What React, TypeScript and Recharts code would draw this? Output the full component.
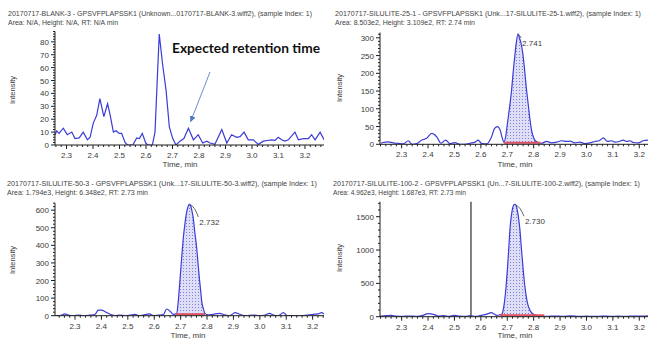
import React from "react";
import {
  Area,
  ComposedChart,
  Line,
  ReferenceDot,
  ReferenceLine,
  XAxis,
  YAxis,
} from "recharts";

// 20170717-BLANK-3
const blankTime = [
  2.257, 2.263, 2.272, 2.288, 2.303, 2.32, 2.332, 2.348, 2.363, 2.379,
  2.389, 2.401, 2.414, 2.426, 2.441, 2.455, 2.464, 2.477, 2.487, 2.499,
  2.508, 2.521, 2.53, 2.55, 2.565, 2.575, 2.586, 2.599, 2.607, 2.624,
  2.634, 2.643, 2.65, 2.663, 2.676, 2.688, 2.701, 2.713, 2.728, 2.743,
  2.76, 2.779, 2.797, 2.814, 2.829, 2.842, 2.86, 2.886, 2.905, 2.923,
  2.942, 2.955, 2.97, 2.986, 3.005, 3.024, 3.043, 3.058, 3.074, 3.087,
  3.099, 3.112, 3.124, 3.137, 3.162, 3.175, 3.194, 3.213, 3.225, 3.238,
  3.257, 3.272,
];
const blankIntensity = [
  8, 11, 9, 13, 8, 10, 5, 5.5, 10, 4,
  6, 17, 23, 36, 22, 32, 24, 10, 11, 9,
  9, 2, 0, 0, 5.5, 5, 9, 1.5, 0, 0,
  10, 53, 86, 62, 42, 14, 5, 0, 3, 5,
  13, 4, 8, 1.5, 3, 1.5, 0.5, 12, 1.5, 8,
  6, 6.5, 10, 4, 4, 0.5, 3, 3.5, 4, 3.6,
  6, 4, 3, 4, 10, 4, 5, 5, 8, 4,
  10, 4,
];

// 20170717-SILULITE-25-1
const s25Time = [
  2.222, 2.23, 2.249, 2.268, 2.287, 2.306, 2.325, 2.34, 2.357, 2.376,
  2.395, 2.414, 2.433, 2.449, 2.467, 2.483, 2.502, 2.521, 2.54, 2.559,
  2.578, 2.59, 2.603, 2.622, 2.641, 2.652, 2.663, 2.673, 2.681, 2.687,
  2.694, 2.7, 2.709, 2.716, 2.722, 2.728, 2.734, 2.741, 2.746, 2.752,
  2.759, 2.765, 2.772, 2.779, 2.786, 2.792, 2.799, 2.806, 2.815, 2.83,
  2.849, 2.868, 2.887, 2.906, 2.925, 2.938, 2.956, 2.975, 2.994, 3.013,
  3.032, 3.048, 3.064, 3.079, 3.095, 3.108, 3.124, 3.139, 3.152, 3.165,
  3.178, 3.196, 3.215, 3.233,
];
const s25Intensity = [
  3, 5, 7, 4, 2.5, 1, 10, 0, 2, 12,
  17, 31, 21, 3, 12, 2, 5, 0, 0, 3,
  6, 12, 2, 1, 22, 45, 50, 40, 18, 6,
  22, 55, 106, 150, 200, 245, 285, 311, 300, 285,
  255, 215, 160, 115, 70, 40, 20, 10, 6, 3,
  8, 4, 6, 10, 8, 9, 4, 6, 2, 4,
  8, 10, 18, 8, 10, 6, 8, 12, 8, 10,
  5, 4, 10, 12,
];

// 20170717-SILULITE-50-3
const s50Time = [
  2.224, 2.243, 2.262, 2.275, 2.294, 2.313, 2.332, 2.357, 2.376, 2.388,
  2.401, 2.414, 2.433, 2.452, 2.47, 2.49, 2.508, 2.527, 2.544, 2.565,
  2.582, 2.597, 2.616, 2.635, 2.647, 2.662, 2.672, 2.685, 2.691, 2.698,
  2.704, 2.71, 2.716, 2.723, 2.728, 2.733, 2.738, 2.743, 2.748, 2.754,
  2.761, 2.766, 2.771, 2.776, 2.78, 2.786, 2.792, 2.804, 2.823, 2.848,
  2.867, 2.886, 2.906, 2.924, 2.949, 2.974, 3.0, 3.02, 3.036, 3.052,
  3.07, 3.089, 3.104, 3.127, 3.152, 3.177, 3.202, 3.221, 3.234, 3.243,
];
const s50Intensity = [
  0, 1, 10, 3, 0, 3, 0, 3, 8, 32,
  32, 22, 8, 0, 3, 0, 3, 8, 0, 6,
  10, 0, 3, 6, 38, 22, 8, 13, 80, 212,
  330, 440, 520, 590, 620, 635, 625, 595, 553, 470,
  383, 295, 212, 140, 80, 40, 13, 5, 8, 13,
  5, 0, 18, 8, 0, 4, 0, 4, 13, 4,
  0, 18, 0, 0, 0, 3, 8, 10, 18, 10,
];

// 20170717-SILULITE-100-2
const s100Time = [
  2.218, 2.24, 2.26, 2.28, 2.3, 2.33, 2.36, 2.38, 2.4, 2.42,
  2.44, 2.46, 2.48, 2.5, 2.52, 2.54, 2.56, 2.58, 2.6, 2.62,
  2.64, 2.65, 2.66, 2.67, 2.68, 2.685, 2.69, 2.695, 2.7, 2.705,
  2.71, 2.715, 2.72, 2.725, 2.729, 2.733, 2.738, 2.743, 2.748, 2.754,
  2.76, 2.766, 2.772, 2.778, 2.785, 2.792, 2.8, 2.81, 2.82, 2.835,
  2.85, 2.88, 2.91, 2.94, 2.97, 3.0, 3.03, 3.06, 3.09, 3.12,
  3.15, 3.18, 3.21, 3.233,
];
const s100Intensity = [
  10, 15, 20, 8, 5, 10, 5, 20, 45, 35,
  10, 15, 5, 20, 10, 5, 15, 5, 20, 35,
  60, 40, 20, 25, 40, 110, 240, 430, 680, 980,
  1300, 1500, 1620, 1680, 1687, 1670, 1600, 1470, 1300, 1000,
  720, 480, 300, 180, 105, 60, 35, 20, 12, 8,
  5, 10, 5, 12, 6, 8, 4, 10, 6, 8,
  5, 10, 8, 12,
];

const timeTicks = [2.3, 2.4, 2.5, 2.6, 2.7, 2.8, 2.9, 3.0, 3.1, 3.2];
const blankYTicks = [0, 10, 20, 30, 40, 50, 60, 70, 80];
const s25YTicks = [0, 50, 100, 150, 200, 250, 300];
const s50YTicks = [0, 100, 200, 300, 400, 500, 600];
const s100YTicks = [0, 500, 1000, 1500];

const FONT = "'Liberation Sans', Arial, sans-serif";
const BLUE = "#3b3bd6";
const AXIS = "#1e1e1e";
const TXT = "#3a3a3a";

// evenly spaced minor tick positions inside [lo, hi]
const stepTicks = (lo: number, hi: number, step: number) => {
  const out: number[] = [];
  for (let i = Math.ceil(lo / step - 1e-9); i <= Math.floor(hi / step + 1e-9); i++) {
    out.push(Math.round(i * step * 1000) / 1000);
  }
  return out;
};

const isMajor = (v: number, majors: number[]) =>
  majors.some((m) => Math.abs(m - v) < 1e-6);

const TimeTick = ({ x, y, payload }: any) => {
  const major = isMajor(payload.value, timeTicks);
  return (
    <g>
      <line x1={x} x2={x} y1={y} y2={y + (major ? 4 : 2)} stroke={AXIS} />
      {major && (
        <text x={x} y={y + 13} textAnchor="middle" fontSize={8} fontFamily={FONT} fill={TXT}>
          {payload.value.toFixed(1)}
        </text>
      )}
    </g>
  );
};

const makeYTick = (majors: number[]) => ({ x, y, payload }: any) => {
  const major = isMajor(payload.value, majors);
  return (
    <g>
      <line x1={x - (major ? 4 : 2)} x2={x} y1={y} y2={y} stroke={AXIS} />
      {major && (
        <text x={x - 6} y={y + 3} textAnchor="end" fontSize={8} fontFamily={FONT} fill={TXT}>
          {payload.value}
        </text>
      )}
    </g>
  );
};

const PeakTag = ({ cx, cy, label, dx, dy }: any) => (
  <g>
    <path
      d={`M${cx + 1},${cy + 1} Q${cx + dx * 0.5},${cy + 2} ${cx + dx - 1},${cy + dy - 8}`}
      fill="none"
      stroke="#555"
      strokeWidth={0.9}
    />
    <text x={cx + dx} y={cy + dy} fontSize={8} fontFamily={FONT} fill={TXT}>
      {label}
    </text>
  </g>
);

// red integration baseline, drawn just above the time axis
const Baseline = ({ x1, x2, y }: any) => (
  <line x1={x1} x2={x2} y1={y - 1.5} y2={y - 1.5} stroke="#e2525e" strokeWidth={2} />
);

const Panel = ({ id, time, intensity, xDomain, yMax, yMajor, yStep, curve, box, margin, integ, peak, marker }: any) => {
  const data = time.map((t: number, i: number) => ({
    t,
    v: intensity[i],
    fill: integ && t >= integ[0] && t <= integ[1] ? intensity[i] : null,
  }));
  const YTick = makeYTick(yMajor);
  return (
    <div style={{ position: "absolute", left: box.left, top: box.top }}>
      <ComposedChart width={box.width} height={box.height} data={data} margin={margin}>
        <defs>
          <pattern id={`dots-${id}`} width={3} height={3} patternUnits="userSpaceOnUse">
            <rect width={3} height={3} fill="#dedef7" />
            <rect width={1} height={1} fill="#8080dd" />
          </pattern>
        </defs>
        <XAxis
          type="number"
          dataKey="t"
          domain={xDomain}
          allowDataOverflow
          ticks={stepTicks(xDomain[0], xDomain[1], 0.02)}
          interval={0}
          height={20}
          tickSize={0}
          tickMargin={0}
          tickLine={false}
          axisLine={{ stroke: AXIS }}
          tick={(p: any) => <TimeTick {...p} />}
        />
        <YAxis
          type="number"
          domain={[0, yMax]}
          allowDataOverflow
          ticks={stepTicks(0, yMax, yStep)}
          interval={0}
          width={40}
          tickSize={0}
          tickMargin={0}
          tickLine={false}
          axisLine={{ stroke: AXIS }}
          tick={(p: any) => <YTick {...p} />}
        />
        {integ && (
          <Area
            type={curve}
            dataKey="fill"
            stroke="none"
            fill={`url(#dots-${id})`}
            fillOpacity={1}
            baseValue={0}
            dot={false}
            activeDot={false}
            isAnimationActive={false}
          />
        )}
        <Line
          type={curve}
          dataKey="v"
          stroke={BLUE}
          strokeWidth={1.2}
          dot={false}
          activeDot={false}
          isAnimationActive={false}
        />
        {integ && (
          <ReferenceLine
            segment={[
              { x: integ[0], y: 0 },
              { x: integ[1], y: 0 },
            ]}
            ifOverflow="visible"
            shape={(p: any) => <Baseline x1={p.x1} x2={p.x2} y={p.y1} />}
          />
        )}
        {marker != null && <ReferenceLine x={marker} stroke="#555" strokeWidth={1.5} />}
        {peak && (
          <ReferenceDot
            x={peak.t}
            y={peak.v}
            r={0}
            ifOverflow="visible"
            shape={(p: any) => <PeakTag cx={p.cx} cy={p.cy} label={peak.label} dx={peak.dx} dy={peak.dy} />}
          />
        )}
      </ComposedChart>
    </div>
  );
};

const titles = [
  {
    x: 8, y: 16, w1: 304, w2: 110,
    l1: "20170717-BLANK-3 - GPSVFPLAPSSK1 (Unknown...0170717-BLANK-3.wiff2), (sample Index: 1)",
    l2: "Area: N/A, Height: N/A, RT: N/A min",
  },
  {
    x: 335, y: 16, w1: 306, w2: 140,
    l1: "20170717-SILULITE-25-1 - GPSVFPLAPSSK1 (Unk...17-SILULITE-25-1.wiff2), (sample Index: 1)",
    l2: "Area: 8.503e2, Height: 3.109e2, RT: 2.74 min",
  },
  {
    x: 7, y: 186, w1: 310, w2: 141,
    l1: "20170717-SILULITE-50-3 - GPSVFPLAPSSK1 (Unk...17-SILULITE-50-3.wiff2), (sample Index: 1)",
    l2: "Area: 1.794e3, Height: 6.348e2, RT: 2.73 min",
  },
  {
    x: 333, y: 186, w1: 307, w2: 133,
    l1: "20170717-SILULITE-100-2 - GPSVFPLAPSSK1 (Un...7-SILULITE-100-2.wiff2), (sample Index: 1)",
    l2: "Area: 4.962e3, Height: 1.687e3, RT: 2.73 min",
  },
];

const yLabels = [
  { x: 12, y: 90 },
  { x: 339, y: 88 },
  { x: 12, y: 260 },
  { x: 339, y: 258 },
];
const xLabels = [
  { x: 180, y: 167 },
  { x: 515, y: 167 },
  { x: 188, y: 338 },
  { x: 515, y: 338 },
];

export default function App() {
  return (
    <div style={{ position: "absolute", left: 0, top: 0, width: 648, height: 343, background: "#fff", overflow: "hidden" }}>
      <Panel
        id="blank"
        time={blankTime}
        intensity={blankIntensity}
        xDomain={[2.2566, 3.2717]}
        yMax={88}
        yMajor={blankYTicks}
        yStep={2}
        curve="linear"
        box={{ left: 0, top: 0, width: 330, height: 170 }}
        margin={{ top: 31.5, right: 6, bottom: 5, left: 15 }}
      />
      <Panel
        id="s25"
        time={s25Time}
        intensity={s25Intensity}
        xDomain={[2.218, 3.233]}
        yMax={315}
        yMajor={s25YTicks}
        yStep={10}
        curve="monotone"
        box={{ left: 318, top: 0, width: 330, height: 170 }}
        margin={{ top: 32.5, right: 0, bottom: 5.7, left: 22 }}
        integ={[2.687, 2.826]}
        peak={{ t: 2.741, v: 311, label: "2.741", dx: 4, dy: 12 }}
      />
      <Panel
        id="s50"
        time={s50Time}
        intensity={s50Intensity}
        xDomain={[2.2242, 3.243]}
        yMax={640}
        yMajor={s50YTicks}
        yStep={20}
        curve="monotone"
        box={{ left: 0, top: 172, width: 330, height: 171 }}
        margin={{ top: 31.1, right: 6, bottom: 7.3, left: 15 }}
        integ={[2.682, 2.792]}
        peak={{ t: 2.733, v: 635, label: "2.732", dx: 10, dy: 21 }}
      />
      <Panel
        id="s100"
        time={s100Time}
        intensity={s100Intensity}
        xDomain={[2.218, 3.233]}
        yMax={1725}
        yMajor={s100YTicks}
        yStep={100}
        curve="monotone"
        box={{ left: 318, top: 172, width: 330, height: 171 }}
        margin={{ top: 29.7, right: 0, bottom: 6.3, left: 22 }}
        integ={[2.672, 2.84]}
        peak={{ t: 2.729, v: 1687, label: "2.730", dx: 10, dy: 20 }}
        marker={2.5625}
      />
      <svg width={648} height={343} style={{ position: "absolute", left: 0, top: 0, pointerEvents: "none" }}>
        <defs>
          <marker id="arrowHead" markerWidth={8} markerHeight={8} refX={6} refY={3} orient="auto" markerUnits="userSpaceOnUse">
            <path d="M0,0 L6,3 L0,6 Z" fill="#4f78c0" />
          </marker>
        </defs>
        {titles.map((t) => (
          <g key={t.l1} fontFamily={FONT} fontSize={7} fill="#444">
            <text x={t.x} y={t.y} textLength={t.w1} lengthAdjust="spacingAndGlyphs">{t.l1}</text>
            <text x={t.x} y={t.y + 9} textLength={t.w2} lengthAdjust="spacingAndGlyphs">{t.l2}</text>
          </g>
        ))}
        {yLabels.map((p, i) => (
          <text
            key={`y${i}`}
            x={p.x}
            y={p.y}
            transform={`rotate(-90 ${p.x} ${p.y})`}
            textAnchor="middle"
            dominantBaseline="central"
            fontSize={7.5}
            fontFamily={FONT}
            fill={TXT}
          >
            Intensity
          </text>
        ))}
        {xLabels.map((p, i) => (
          <text key={`x${i}`} x={p.x} y={p.y} textAnchor="middle" fontSize={8} fontFamily={FONT} fill={TXT}>
            Time, min
          </text>
        ))}
        <text x={172} y={53} fontSize={14} fontWeight="bold" fontFamily="Lato, 'Open Sans', sans-serif" fill="#111" textLength={148} lengthAdjust="spacingAndGlyphs">
          Expected retention time
        </text>
        <line x1={210} y1={72} x2={190.5} y2={122} stroke="#6d8fc8" strokeWidth={1} markerEnd="url(#arrowHead)" />
      </svg>
    </div>
  );
}
